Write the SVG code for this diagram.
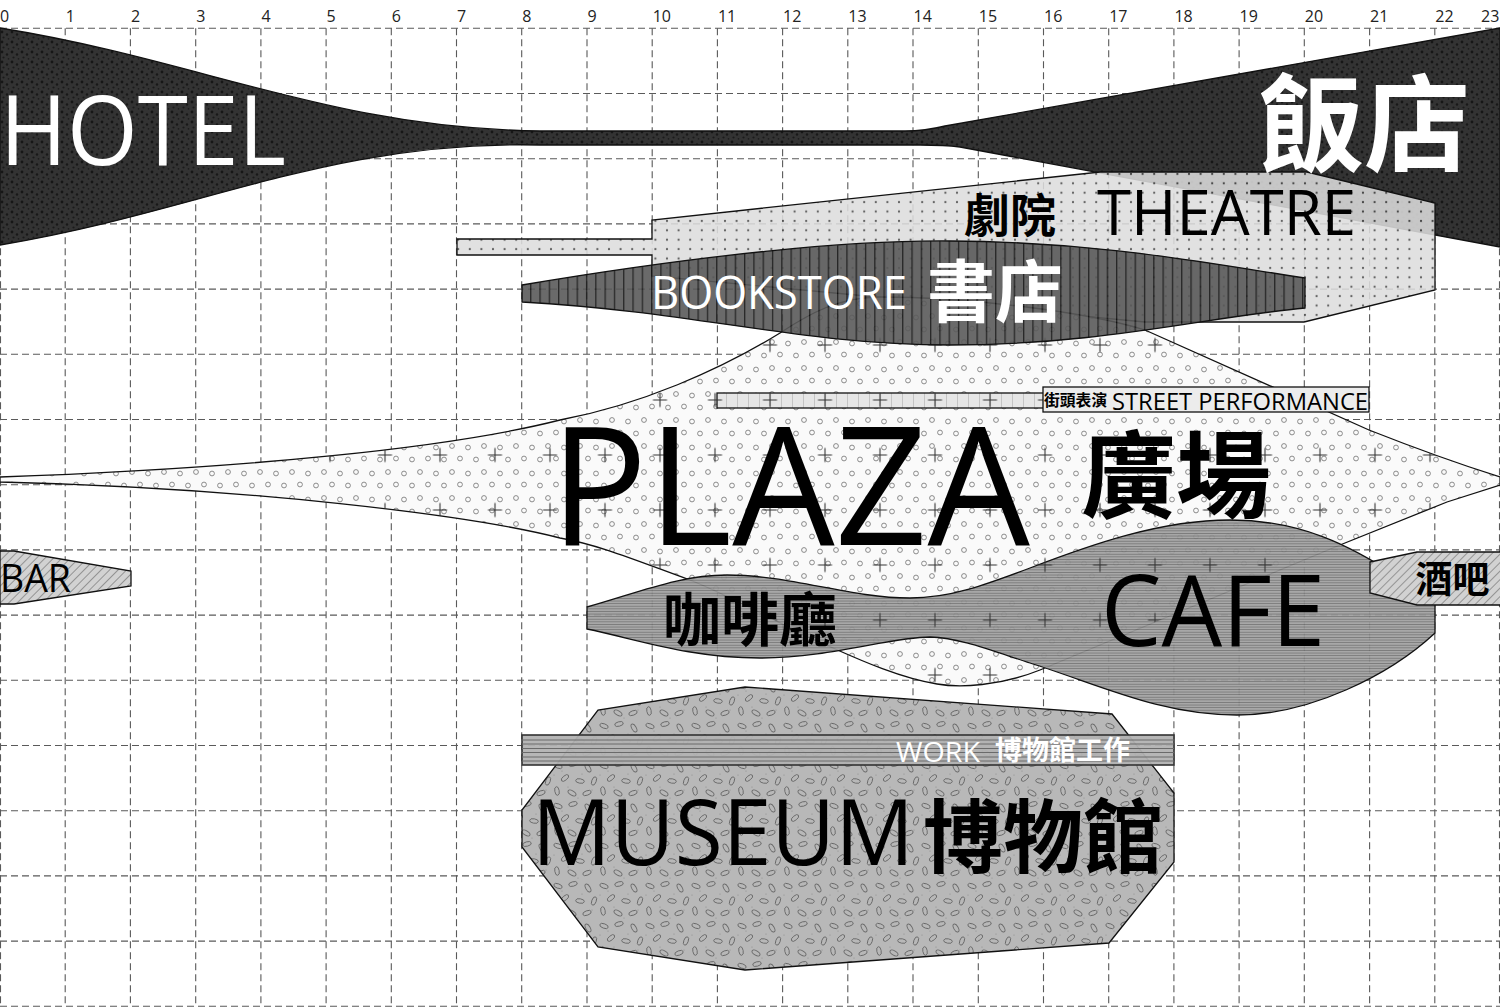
<svg xmlns="http://www.w3.org/2000/svg" width="1500" height="1007" viewBox="0 0 1500 1007">
<style>
.lat{font-family:"Open Sans","Liberation Sans",sans-serif;}
.cjk{font-family:"Noto Sans CJK TC","Noto Sans CJK SC",sans-serif;font-weight:700;}
.axis{font-family:"Open Sans","Liberation Sans",sans-serif;font-size:16px;fill:#222;}
.grid{fill:none;stroke:#5a5a5a;stroke-width:1.1;stroke-dasharray:7 4;}
.edge{stroke:#111;stroke-width:1.3;stroke-linejoin:miter;}
.w{fill:#fff;}
.k{fill:#000;}
</style>
<defs>
<pattern id="pHotel" width="10" height="10" patternUnits="userSpaceOnUse">
<rect width="10" height="10" fill="#333"/>
<circle cx="2" cy="2" r="1.4" fill="#161616"/><circle cx="7" cy="4.5" r="1.2" fill="#181818"/><circle cx="3.5" cy="7.5" r="1.1" fill="#1a1a1a"/><circle cx="8.5" cy="8.8" r="0.9" fill="#1c1c1c"/>
</pattern>
<pattern id="pTheatre" width="11.6" height="9.4" patternUnits="userSpaceOnUse">
<rect width="11.6" height="9.4" fill="#dddddd"/><circle cx="5.8" cy="4.7" r="1.1" fill="#4a4a4a"/>
</pattern>
<pattern id="pBook" width="9.3" height="10" patternUnits="userSpaceOnUse">
<rect width="9.3" height="10" fill="#5a5a5a"/><rect x="0" y="0" width="1.3" height="10" fill="#111"/>
</pattern>
<pattern id="pPlaza" width="32" height="26" patternUnits="userSpaceOnUse">
<rect width="32" height="26" fill="#fafafa"/>
<g fill="none" stroke="#777" stroke-width="0.85">
<circle cx="4" cy="4" r="2.4"/><circle cx="20" cy="5.5" r="2.4"/><circle cx="12" cy="16.5" r="2.4"/><circle cx="28" cy="17.5" r="2.4"/>
</g>
</pattern>
<pattern id="pCafe" width="10" height="2.6" patternUnits="userSpaceOnUse">
<rect width="10" height="2.6" fill="#a0a0a0"/><rect y="0" width="10" height="0.8" fill="#6a6a6a"/>
</pattern>
<pattern id="pHatch" width="6" height="6" patternUnits="userSpaceOnUse" patternTransform="rotate(45)">
<rect width="6" height="6" fill="#d2d2d2"/><line x1="0" y1="0" x2="0" y2="6" stroke="#555" stroke-width="1"/>
</pattern>
<pattern id="pMuseum" width="46" height="40" patternUnits="userSpaceOnUse">
<rect width="46" height="40" fill="#b8b8b8"/>
<g fill="#8c8c8c"><circle cx="10" cy="11" r="0.6"/><circle cx="30" cy="14" r="0.6"/><circle cx="16" cy="27" r="0.6"/><circle cx="40" cy="30" r="0.6"/><circle cx="26" cy="38" r="0.6"/><circle cx="2" cy="15" r="0.6"/></g>
<g fill="none" stroke="#686868" stroke-width="0.9">
<ellipse cx="6" cy="6" rx="4.4" ry="2.2" transform="rotate(20 6 6)"/>
<ellipse cx="21" cy="4" rx="4.4" ry="2.2" transform="rotate(-15 21 4)"/>
<ellipse cx="36" cy="8" rx="4.4" ry="2.2" transform="rotate(60 36 8)"/>
<ellipse cx="13" cy="18" rx="4.4" ry="2.2" transform="rotate(-40 13 18)"/>
<ellipse cx="28" cy="21" rx="4.4" ry="2.2" transform="rotate(10 28 21)"/>
<ellipse cx="42" cy="21" rx="4.4" ry="2.2" transform="rotate(-70 42 21)"/>
<ellipse cx="5" cy="31" rx="4.4" ry="2.2" transform="rotate(80 5 31)"/>
<ellipse cx="20" cy="33" rx="4.4" ry="2.2" transform="rotate(30 20 33)"/>
<ellipse cx="35" cy="33" rx="4.4" ry="2.2" transform="rotate(-20 35 33)"/>
</g>
</pattern>
<pattern id="pTick" width="11" height="30" patternUnits="userSpaceOnUse">
<rect width="11" height="30" fill="#e6e6e6"/><line x1="0.5" y1="0" x2="0.5" y2="30" stroke="#bbb" stroke-width="0.8"/>
</pattern>
<pattern id="pPlus" x="-27.5" y="-12.5" width="55" height="55" patternUnits="userSpaceOnUse">
<path d="M20.5,27.5H34.5M27.5,20.5V34.5" stroke="#333" stroke-width="1.1" fill="none"/>
</pattern>
<path id="plazaShape" d="M0,477 C250,468 450,448 560,420 C640,405 720,370 780,333 C810,313 840,297 880,297 C960,297 1080,310 1145,330 L1369,430 Q1440,458 1500,477 L1500,485 L1447,502 L1340,545 L1040,670 C1000,686 960,688 937,684 C900,678 860,660 833,648 C790,630 740,600 690,580 C640,562 600,545 560,538 C470,515 250,488 0,482 Z"/>
<clipPath id="clipPlaza"><use href="#plazaShape"/></clipPath>
</defs>

<g id="grid">
<path class="grid" d="M0.5,28.3V1007M65.2,28.3V1007M130.4,28.3V1007M195.7,28.3V1007M260.9,28.3V1007M326.1,28.3V1007M391.3,28.3V1007M456.5,28.3V1007M521.7,28.3V1007M587,28.3V1007M652.2,28.3V1007M717.4,28.3V1007M782.6,28.3V1007M847.8,28.3V1007M913,28.3V1007M978.3,28.3V1007M1043.5,28.3V1007M1108.7,28.3V1007M1173.9,28.3V1007M1239.1,28.3V1007M1304.3,28.3V1007M1369.6,28.3V1007M1434.8,28.3V1007M1499.5,28.3V1007"/>
<path class="grid" d="M0,28.3H1500M0,93.5H1500M0,158.7H1500M0,223.9H1500M0,289.1H1500M0,354.3H1500M0,419.5H1500M0,484.7H1500M0,549.9H1500M0,615.1H1500M0,680.3H1500M0,745.5H1500M0,810.7H1500M0,875.9H1500M0,941.1H1500M0,1006.3H1500"/>
<g class="axis">
<text x="0" y="22">0</text><text x="65.7" y="22">1</text><text x="130.9" y="22">2</text><text x="196.2" y="22">3</text><text x="261.4" y="22">4</text><text x="326.6" y="22">5</text><text x="391.8" y="22">6</text><text x="457" y="22">7</text><text x="522.2" y="22">8</text><text x="587.5" y="22">9</text><text x="652.7" y="22">10</text><text x="717.9" y="22">11</text><text x="783.1" y="22">12</text><text x="848.3" y="22">13</text><text x="913.5" y="22">14</text><text x="978.8" y="22">15</text><text x="1044" y="22">16</text><text x="1109.2" y="22">17</text><text x="1174.4" y="22">18</text><text x="1239.6" y="22">19</text><text x="1304.8" y="22">20</text><text x="1370.1" y="22">21</text><text x="1435.3" y="22">22</text><text x="1481" y="22">23</text>
</g>
</g>

<g id="hotel">
<path class="edge" fill="url(#pHotel)" d="M0,28 C200,60 330,128 540,131 L905,131 Q925,131 945,126 L1500,28 L1500,247 L960,147 Q945,145 920,145 L540,145 C330,140 200,212 0,245 Z"/>
</g>

<g id="theatre">
<path class="edge" fill="url(#pTheatre)" fill-opacity="0.87" d="M457,239 L652,239 L652,220 L1100,172 L1307,172 L1435,203 L1435,290 L1304,322 L1145,322 L652,276 L652,255 L457,255 Z"/>
</g>

<g id="plaza">
<use href="#plazaShape" class="edge" fill="url(#pPlaza)"/>
</g>

<g id="street-bar">
<rect class="edge" x="717" y="393" width="330" height="15" fill="url(#pTick)"/>
</g>

<g id="cafe">
<path class="edge" fill="url(#pCafe)" fill-opacity="0.92" d="M587,607 C640,592 680,575 727,575 C790,575 850,598 910,598 C950,598 985,585 1030,568 C1090,545 1160,520 1230,520 C1300,520 1350,545 1400,578 L1435,600 L1435,633 C1390,675 1310,715 1237,715 C1160,715 1100,685 1030,663 C990,650 960,638 930,637 C890,637 830,658 760,658 C690,658 640,640 587,629 Z"/>
</g>

<g id="bar">
<path class="edge" fill="url(#pHatch)" d="M0,551 L14,551 L131,571 L131,586 L14,604 L0,604 Z"/>
</g>

<g id="jiuba">
<path class="edge" fill="url(#pHatch)" d="M1370,562 L1417,552 L1501,552 L1501,605 L1417,605 L1370,593 Z"/>
</g>

<g id="plaza-marks">
<rect x="0" y="280" width="1500" height="420" fill="url(#pPlus)" clip-path="url(#clipPlaza)"/>
</g>

<g id="street-performance">
<rect class="edge" x="1043" y="387" width="326" height="25" fill="#ececec" stroke-width="1.6"/>
</g>

<g id="bookstore">
<path class="edge" fill="url(#pBook)" fill-opacity="0.9" d="M522,285 C700,255 850,240 950,241 C1100,242 1200,262 1305,278 L1305,308 C1200,318 1100,345 950,345 C800,345 700,312 522,302 Z"/>
</g>

<g id="museum">
<path class="edge" fill="url(#pMuseum)" d="M745,687 L1112,714 L1174,793 L1174,862 L1109,943 L745,970 L598,947 L522,847 L522,810 L598,710 Z"/>
</g>

<g id="work">
<rect x="522" y="735" width="652" height="30" fill="#b2b2b2" fill-opacity="0.95" stroke="#333" stroke-width="1.6"/>
<path d="M522,740H1174M522,744H1174M522,748.5H1174M522,752.5H1174M522,757H1174M522,761H1174" stroke="#6a6a6a" stroke-width="1"/>
</g>

<g id="labels">
<text class="lat w" x="0" y="165" font-size="97" textLength="286" lengthAdjust="spacingAndGlyphs">HOTEL</text>
<text class="cjk w" x="1258" y="162.5" font-size="106">飯店</text>
<text class="cjk k" x="964" y="232" font-size="46">劇院</text>
<text class="lat k" x="1097" y="235" font-size="63" textLength="259" lengthAdjust="spacingAndGlyphs">THEATRE</text>
<text class="lat w" x="651" y="309" font-size="46" textLength="256" lengthAdjust="spacingAndGlyphs">BOOKSTORE</text>
<text class="cjk w" x="927" y="317" font-size="68">書店</text>
<text class="cjk k" x="1044" y="406" font-size="15.8">街頭表演</text>
<text class="lat k" x="1112" y="410" font-size="24" textLength="256" lengthAdjust="spacingAndGlyphs">STREET PERFORMANCE</text>
<text class="lat k" x="550" y="545" font-size="164" textLength="480" lengthAdjust="spacingAndGlyphs">PLAZA</text>
<text class="cjk k" x="1081" y="511" font-size="95">廣場</text>
<text class="lat k" x="0" y="592" font-size="37.5" textLength="71" lengthAdjust="spacingAndGlyphs">BAR</text>
<text class="cjk k" x="1415.5" y="592.5" font-size="37">酒吧</text>
<text class="cjk k" x="663" y="641" font-size="58">咖啡廳</text>
<text class="lat k" x="1101" y="646" font-size="98" textLength="224" lengthAdjust="spacingAndGlyphs">CAFE</text>
<text class="lat w" x="896" y="762" font-size="28" textLength="84" lengthAdjust="spacingAndGlyphs">WORK</text>
<text class="cjk w" x="995" y="760" font-size="27">博物館工作</text>
<text class="lat k" x="532" y="865" font-size="91" textLength="382" lengthAdjust="spacingAndGlyphs">MUSEUM</text>
<text class="cjk k" x="923" y="866" font-size="80">博物館</text>
</g>
</svg>
